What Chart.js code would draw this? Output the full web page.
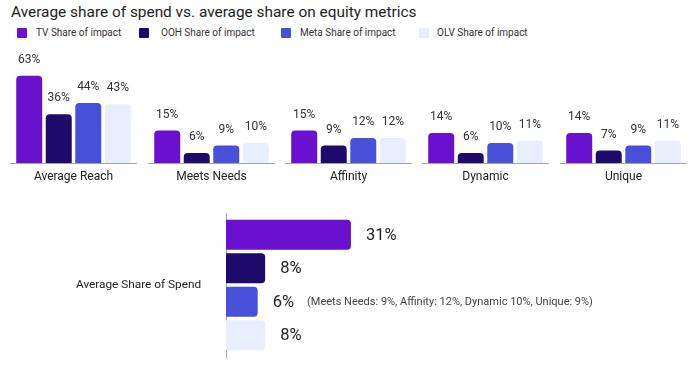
<!DOCTYPE html>
<html><head><meta charset="utf-8">
<script src="https://cdn.jsdelivr.net/npm/chart.js@4.4.1/dist/chart.umd.min.js"></script>
<style>
html,body{margin:0;padding:0;background:#fff;width:700px;height:374px;overflow:hidden;font-family:Roboto,sans-serif;}
#title{position:absolute;left:11px;top:2px;font-size:15.4px;color:#1c1e21;white-space:nowrap;line-height:20px;}
.leg{position:absolute;top:27px;font-size:10px;color:#333;white-space:nowrap;line-height:12px;}
.sw{position:absolute;top:28px;width:10px;height:10px;border-radius:1px;}
.box{position:absolute;}
</style>
</head><body>
<div id="title">Average share of spend vs. average share on equity metrics</div>
<div id="legend"></div>
<div id="groups"></div>
<div class="box" style="left:0;top:205px;"><canvas id="spend" width="700" height="160"></canvas></div>
<script>
// ---- data ----
const categories = ['Average Reach', 'Meets Needs', 'Affinity', 'Dynamic', 'Unique'];
const seriesNames = ['TV Share of impact', 'OOH Share of impact', 'Meta Share of impact', 'OLV Share of impact'];
const tvImpact   = [63, 15, 15, 14, 14];
const oohImpact  = [36, 6, 9, 6, 7];
const metaImpact = [44, 9, 12, 10, 9];
const olvImpact  = [43, 10, 12, 11, 11];
const spendCategory = ['Average Share of Spend'];
const spendShare = [31, 8, 6, 8]; // TV, OOH, Meta, OLV
const spendNotes = ['', '', '(Meets Needs: 9%, Affinity: 12%, Dynamic 10%, Unique: 9%)', ''];

// ---- style ----
const colors = ['#6a11cf', '#1d0a6a', '#4850da', '#e8eefb'];
const FONT = 'Roboto, sans-serif';
const impactSeries = [tvImpact, oohImpact, metaImpact, olvImpact];

// legend (HTML)
const legSw = [17, 139, 281, 419], legTx = [36, 161, 300, 437];
const legend = document.getElementById('legend');
seriesNames.forEach((n, i) => {
  const s = document.createElement('div'); s.className = 'sw'; s.style.left = legSw[i] + 'px'; s.style.background = colors[i]; legend.appendChild(s);
  const t = document.createElement('div'); t.className = 'leg'; t.style.left = legTx[i] + 'px'; t.textContent = n; legend.appendChild(t);
});

const valueLabels = {
  id: 'valueLabels',
  afterDatasetsDraw(chart, args, opts) {
    const ctx = chart.ctx; ctx.save();
    chart.data.datasets.forEach((ds, i) => {
      const meta = chart.getDatasetMeta(i);
      meta.data.forEach((el, j) => {
        const txt = ds.data[j] + '%';
        if (opts.horizontal) {
          ctx.font = '16.5px ' + FONT; ctx.fillStyle = '#222'; ctx.textAlign = 'left'; ctx.textBaseline = 'middle';
          const x = el.x + 15; ctx.fillText(txt, x, el.y + 1);
          const note = (opts.notes || [])[i];
          if (note) {
            const w = ctx.measureText(txt).width;
            ctx.font = '11px ' + FONT; ctx.fillStyle = '#444';
            ctx.fillText(note, x + w + 13, el.y + 1);
          }
        } else {
          ctx.font = '12px ' + FONT; ctx.fillStyle = '#333'; ctx.textAlign = 'center'; ctx.textBaseline = 'middle';
          ctx.fillText(txt, el.x, el.y - 16);
        }
      });
    });
    ctx.restore();
  }
};

// top: one small chart per metric group (each group has its own scale)
const groupLeft = [10, 148, 285, 422, 560];
const groupMax = [85.2, 49.6, 49.6, 49.6, 49.6];
const groupsDiv = document.getElementById('groups');
categories.forEach((cat, g) => {
  const box = document.createElement('div'); box.className = 'box';
  box.style.left = groupLeft[g] + 'px'; box.style.top = '44px';
  const cv = document.createElement('canvas'); cv.width = 127; cv.height = 150;
  box.appendChild(cv); groupsDiv.appendChild(box);
  new Chart(cv, {
    type: 'bar',
    data: {
      labels: [cat],
      datasets: impactSeries.map((s, i) => ({
        label: seriesNames[i], data: [s[g]], backgroundColor: colors[i],
        borderRadius: { topLeft: 4, topRight: 4, bottomLeft: 0, bottomRight: 0 },
        categoryPercentage: 0.93, barPercentage: 0.88
      }))
    },
    options: {
      responsive: false, animation: false, devicePixelRatio: 1,
      layout: { padding: 0 },
      plugins: { legend: { display: false }, tooltip: { enabled: false }, valueLabels: {} },
      scales: {
        x: {
          grid: { display: false, drawTicks: false },
          border: { display: true, color: '#a4a4ae', width: 1 },
          ticks: { font: { family: FONT, size: 12 }, color: '#222', padding: 7 },
          afterFit: s => { s.height = 31; }
        },
        y: { display: false, min: 2, max: groupMax[g] }
      }
    },
    plugins: [valueLabels]
  });
});

// bottom: average share of spend
new Chart(document.getElementById('spend'), {
  type: 'bar',
  data: {
    labels: spendCategory,
    datasets: spendShare.map((v, i) => ({
      label: seriesNames[i], data: [v], backgroundColor: colors[i],
      base: -2.5, borderRadius: 4, borderSkipped: 'start',
      categoryPercentage: 0.93, barPercentage: 0.9
    }))
  },
  options: {
    indexAxis: 'y', responsive: false, animation: false, devicePixelRatio: 1,
    layout: { padding: { top: 8, bottom: 8, left: 76, right: 0 } },
    plugins: { legend: { display: false }, tooltip: { enabled: false }, valueLabels: { horizontal: true, notes: spendNotes } },
    scales: {
      x: { display: false, min: -2.5, max: 124.6 },
      y: {
        grid: { display: false, drawTicks: false },
        border: { display: true, color: '#a4a4ae', width: 1 },
        ticks: { font: { family: FONT, size: 11.8 }, color: '#222', padding: 0, crossAlign: 'far' },
        afterFit: s => { s.width = 150; }
      }
    }
  },
  plugins: [valueLabels]
});
</script>
</body></html>
